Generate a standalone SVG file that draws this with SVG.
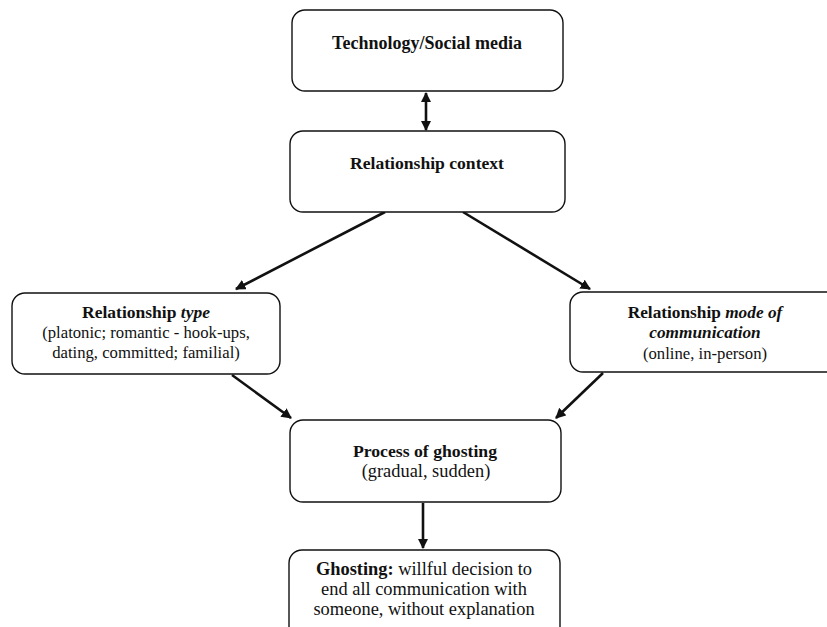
<svg xmlns="http://www.w3.org/2000/svg" width="827" height="627" viewBox="0 0 827 627">
<style>
.box{fill:#fff;stroke:#111;stroke-width:1.4}
text{font-family:"Liberation Serif","Times New Roman",serif;font-size:16.7px;fill:#111;text-anchor:middle}
.b{font-weight:bold}
.i{font-style:italic}
.lg{font-size:18.4px}
.c{stroke:#111;stroke-width:2.6;fill:none}
</style>
<defs>
<marker id="ah" viewBox="0 0 10 10" refX="9" refY="5" markerWidth="4" markerHeight="4" orient="auto-start-reverse" markerUnits="strokeWidth">
<path d="M0,0 L10,5 L0,10 z" fill="#111"/>
</marker>
</defs>
<rect width="827" height="627" fill="#fff"/>
<g id="connectors">
<line class="c" x1="426" y1="93" x2="426" y2="130" marker-start="url(#ah)" marker-end="url(#ah)"/>
<line class="c" x1="385" y1="212" x2="236" y2="289" marker-end="url(#ah)"/>
<line class="c" x1="463" y1="212" x2="590" y2="289" marker-end="url(#ah)"/>
<line class="c" x1="232" y1="375" x2="291" y2="418" marker-end="url(#ah)"/>
<line class="c" x1="603" y1="373" x2="556" y2="418" marker-end="url(#ah)"/>
<line class="c" x1="423" y1="503" x2="423" y2="548" marker-end="url(#ah)"/>
</g>
<g id="tech">
<rect class="box" x="292" y="10" width="271" height="81" rx="13"/>
<text class="b" x="427" y="49" style="font-size:18px">Technology/Social media</text>
</g>
<g id="context">
<rect class="box" x="290" y="131" width="275" height="81" rx="13"/>
<text class="b" x="427" y="169" style="font-size:17.6px">Relationship context</text>
</g>
<g id="type">
<rect class="box" x="12" y="293" width="268" height="81" rx="13"/>
<text x="146" y="318" style="font-size:17.5px"><tspan class="b">Relationship </tspan><tspan class="b i">type</tspan></text>
<text x="146" y="338">(platonic; romantic - hook-ups,</text>
<text x="146" y="358">dating, committed; familial)</text>
</g>
<g id="mode">
<rect class="box" x="570" y="292" width="270" height="80" rx="13"/>
<text x="705" y="318" style="font-size:17.3px"><tspan class="b">Relationship </tspan><tspan class="b i">mode of</tspan></text>
<text class="b i" x="705" y="338" style="font-size:17.3px">communication</text>
<text x="705" y="359">(online, in-person)</text>
</g>
<g id="process">
<rect class="box" x="290" y="420" width="271" height="82" rx="13"/>
<text class="b" x="425" y="457" style="font-size:17.7px">Process of ghosting</text>
<text class="lg" x="426" y="477">(gradual, sudden)</text>
</g>
<g id="ghosting">
<rect class="box" x="289" y="550" width="271" height="90" rx="13"/>
<text class="lg" x="424" y="575"><tspan class="b">Ghosting:</tspan> willful decision to</text>
<text class="lg" x="424" y="595">end all communication with</text>
<text class="lg" x="424" y="615">someone, without explanation</text>
</g>
</svg>
